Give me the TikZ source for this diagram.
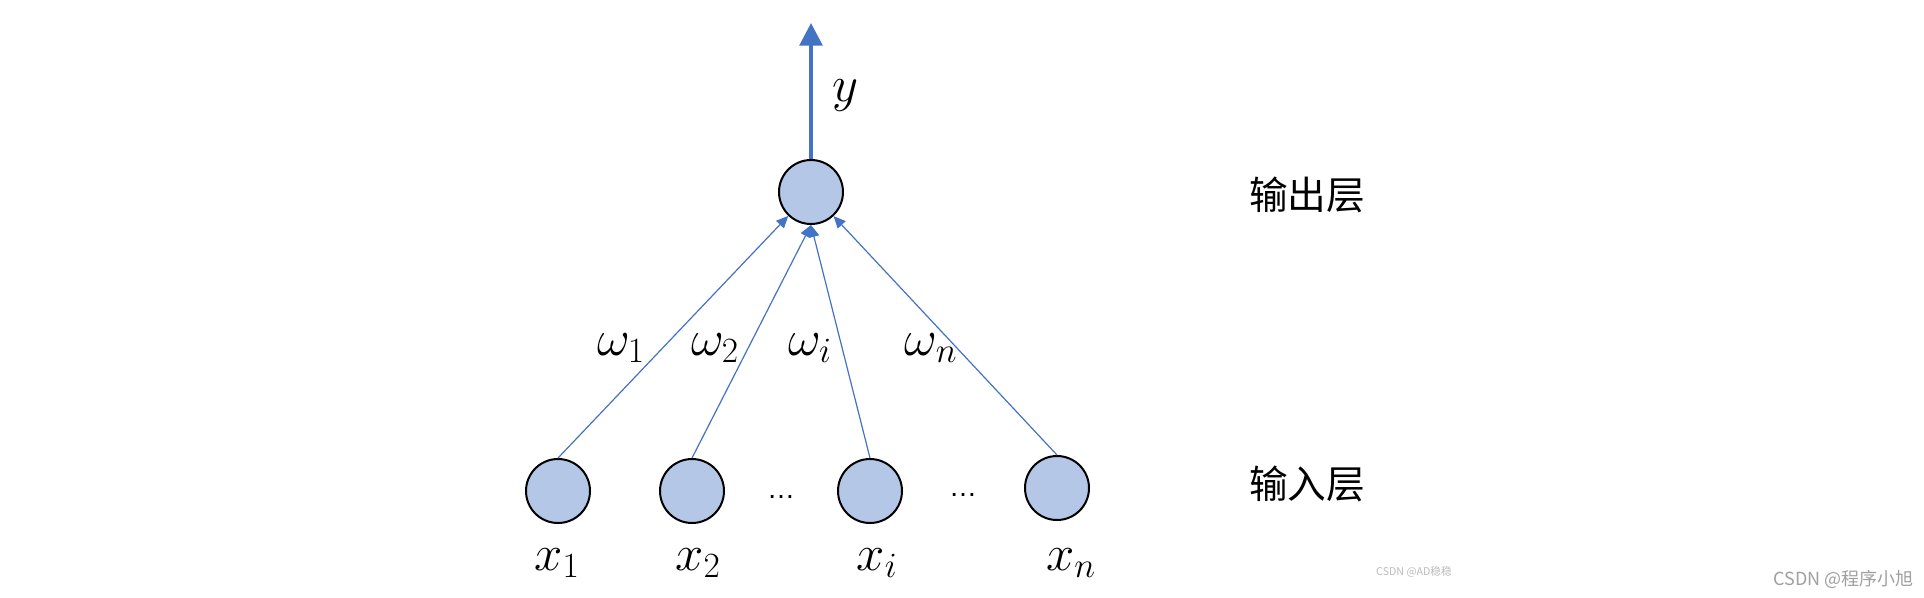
\RequirePackage{fix-cm}
\documentclass[tikz,border=0pt]{standalone}
\usepackage{fontspec}
\usetikzlibrary{arrows.meta}
\newfontfamily\cjk{Noto Sans CJK SC}
\newfontfamily\lsans{Liberation Sans}
\definecolor{lineblue}{RGB}{68,114,196}
\definecolor{nodefill}{RGB}{180,199,231}
\definecolor{wmgray}{RGB}{160,160,160}
\begin{document}
\begin{tikzpicture}[x=0.75pt,y=-0.75pt,
  neuron/.style={circle,draw=black,line width=1.5pt,fill=nodefill,minimum size=48pt,inner sep=0pt},
  wire/.style={draw=lineblue,line width=0.9pt,-{Triangle[length=9pt,width=8pt]}},
  outwire/.style={draw=lineblue,line width=3pt,-{Triangle[length=17pt,width=17pt]}},
  mlabel/.style={font=\fontsize{38}{44}\selectfont,inner sep=0pt},
  layerlabel/.style={font=\cjk\fontsize{29}{33}\selectfont,inner sep=0pt},
  dotslabel/.style={font=\lsans\fontsize{21}{24}\selectfont,inner sep=0pt}]
\useasboundingbox (0,0) rectangle (1924,597);
\fill[white] (0,0) rectangle (1924,597);
% nodes
\node[neuron] (out) at (811,192) {};
\node[neuron] (x1) at (558,491) {};
\node[neuron] (x2) at (692,491) {};
\node[neuron] (xi) at (870,491) {};
\node[neuron] (xn) at (1057,488) {};
\coordinate (top) at (811,23);
% connectors
\draw[outwire] (out.north) -- (top);
\draw[wire] (x1.north) -- (out);
\draw[wire] (x2.north) -- (out.south);
\draw[wire] (xi.north) -- (out.south);
\draw[wire] (xn.north) -- (out);
% labels
\node[mlabel] (ylab) at (845,96) {$y$};
\node[mlabel] (w1) at (621,348) {$\omega_1$};
\node[mlabel] (w2) at (715,348) {$\omega_2$};
\node[mlabel] (wi) at (810,348) {$\omega_i$};
\node[mlabel] (wn) at (931,348) {$\omega_n$};
\node[mlabel] (l1) at (557,563) {$x_1$};
\node[mlabel] (l2) at (698,563) {$x_2$};
\node[mlabel] (li) at (877,563) {$x_i$};
\node[mlabel] (ln) at (1071,563) {$x_n$};
\node[dotslabel,anchor=base] (d1) at (781,498) {…};
\node[dotslabel,anchor=base] (d2) at (963,496) {…};
\node[layerlabel,anchor=west] (outlayer) at (1249,195) {输出层};
\node[layerlabel,anchor=west] (inlayer) at (1249,484) {输入层};
% watermarks
\node[font=\cjk\fontsize{8}{10}\selectfont,text=wmgray!70,inner sep=0pt] (wm1) at (1414,572) {CSDN @AD稳稳};
\node[font=\cjk\fontsize{13.5}{16}\selectfont,text=wmgray,inner sep=0pt,anchor=east] (wm2) at (1914,579) {CSDN @程序小旭};
\end{tikzpicture}
\end{document}
